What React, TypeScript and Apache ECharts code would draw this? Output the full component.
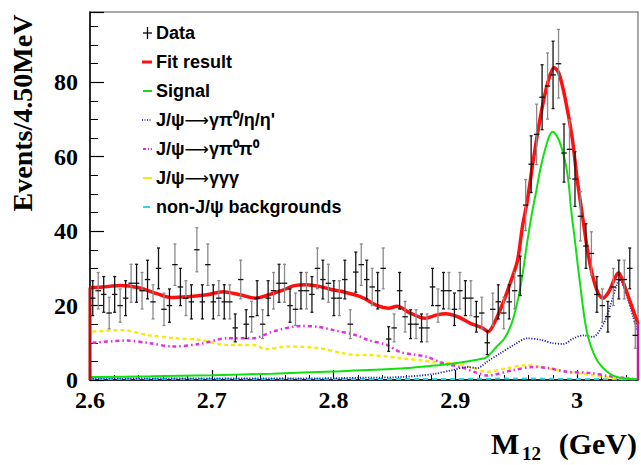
import React, { useEffect, useRef } from "react";
import * as echarts from "echarts";

// ---------- data ----------
const xRange = [2.6, 3.05];
const binWidth = 0.0045; // 4.50 MeV
const xTickLabels = ["2.6", "2.7", "2.8", "2.9", "3"];
const yTickLabels = ["0", "20", "40", "60", "80"];

// event counts per 4.5 MeV bin (100 bins, 2.6 - 3.05 GeV)
const counts = [
  22, 24, 23, 18, 23, 20, 22, 26, 26, 24,
  27, 21, 30, 19, 20, 31, 25, 22, 21, 35,
  21, 31, 21, 22, 21, 21, 14, 27, 15, 17,
  22, 15, 22, 24, 26, 26, 20, 19, 24, 24,
  23, 30, 27, 26, 22, 22, 27, 15, 29, 31,
  27, 25, 24, 30, 11, 14, 24, 17, 15, 15,
  14, 14, 25, 20, 24, 24, 19, 24, 22, 22,
  17, 18, 10, 19, 21, 18, 21, 24, 28, 47,
  58, 66, 76, 79, 82, 85, 61, 62, 54, 44,
  36, 34, 23, 20, 17, 25, 27, 27, 30, 12,
];

const fitX = [2.6, 2.61, 2.625, 2.64, 2.655, 2.666, 2.68, 2.696, 2.709, 2.723, 2.736, 2.745, 2.759, 2.767, 2.778, 2.789, 2.8, 2.808, 2.822, 2.836, 2.845, 2.852, 2.863, 2.875, 2.885, 2.892, 2.902, 2.912, 2.922, 2.927, 2.933, 2.939, 2.945, 2.951, 2.955, 2.959, 2.964, 2.97, 2.976, 2.981, 2.985, 2.99, 2.996, 3.0, 3.004, 3.008, 3.012, 3.017, 3.021, 3.026, 3.031, 3.034, 3.037, 3.041, 3.045, 3.049, 3.05];
const fitY = [24.8, 25.0, 25.4, 24.8, 23.2, 22.2, 22.4, 22.9, 23.7, 22.9, 22.0, 22.7, 24.2, 25.3, 25.6, 25.1, 24.2, 23.7, 22.4, 20.0, 19.3, 19.8, 18.0, 16.6, 17.5, 17.8, 17.0, 15.3, 14.0, 13.0, 16.0, 20.6, 26.0, 32.0, 41.0, 48.0, 59.0, 71.0, 80.0, 84.0, 82.5, 76.0, 65.0, 54.0, 45.0, 36.0, 29.0, 23.5, 22.0, 23.7, 27.4, 28.8, 27.0, 23.4, 19.7, 16.0, 15.0];

const sigX = [2.6, 2.65, 2.7, 2.75, 2.8, 2.85, 2.88, 2.9, 2.92, 2.926, 2.934, 2.94, 2.946, 2.951, 2.955, 2.959, 2.963, 2.966, 2.97, 2.976, 2.98, 2.985, 2.99, 2.993, 2.995, 2.998, 3.002, 3.008, 3.016, 3.026, 3.035, 3.05];
const sigY = [0.8, 1.0, 1.3, 1.7, 2.3, 3.0, 3.8, 4.5, 5.6, 6.2, 9.0, 11.0, 15.0, 21.0, 28.0, 37.0, 45.0, 50.0, 57.0, 64.5, 66.7, 64.5, 59.0, 53.0, 46.0, 38.0, 27.0, 13.0, 5.5, 1.9, 0.6, 0.2];

const etaX = [2.6, 2.7, 2.77, 2.82, 2.855, 2.882, 2.898, 2.91, 2.918, 2.926, 2.937, 2.948, 2.959, 2.97, 2.98, 2.989, 2.997, 3.005, 3.013, 3.022, 3.027, 3.033, 3.035, 3.041, 3.046, 3.049];
const etaY = [0.4, 0.4, 0.4, 0.6, 0.8, 1.6, 2.7, 3.5, 3.2, 4.9, 7.2, 9.4, 11.2, 10.8, 9.9, 9.7, 11.2, 12.0, 11.6, 15.3, 19.7, 26.0, 27.0, 22.4, 17.0, 13.4];

const pi0pi0X = [2.602, 2.63, 2.649, 2.668, 2.69, 2.713, 2.734, 2.75, 2.773, 2.787, 2.8, 2.819, 2.828, 2.844, 2.855, 2.877, 2.89, 2.904, 2.918, 2.926, 2.948, 2.964, 2.976, 2.992, 3.011, 3.027, 3.046];
const pi0pi0Y = [10.0, 10.6, 9.9, 9.0, 9.7, 11.2, 11.2, 13.0, 14.5, 14.3, 13.4, 12.0, 10.8, 9.4, 7.5, 6.2, 4.5, 3.5, 1.9, 1.2, 2.7, 3.5, 3.2, 2.2, 1.9, 1.0, 0.3];

const gggX = [2.602, 2.626, 2.649, 2.671, 2.69, 2.713, 2.734, 2.745, 2.762, 2.787, 2.808, 2.819, 2.828, 2.855, 2.882, 2.898, 2.915, 2.926, 2.943, 2.959, 2.97, 2.992, 3.013, 3.03, 3.046];
const gggY = [13.0, 13.4, 12.0, 11.2, 10.8, 9.4, 9.4, 8.3, 9.0, 8.6, 7.2, 6.7, 6.7, 5.9, 4.9, 4.5, 3.2, 2.2, 3.2, 4.0, 3.5, 2.2, 1.3, 0.5, 0.3];

const nonJpsiX = [2.6, 2.7, 2.8, 2.9, 2.95, 3.0, 3.05];
const nonJpsiY = [0.3, 0.3, 0.3, 0.3, 0.4, 0.3, 0.2];

// legend labels: [before arrow, after arrow]
const legendLabels: [string, string | null][] = [
  ["Data", null],
  ["Fit result", null],
  ["Signal", null],
  ["J/\u03c8", "\u03b3\u03c0\u2070/\u03b7/\u03b7'"],
  ["J/\u03c8", "\u03b3\u03c0\u2070\u03c0\u2070"],
  ["J/\u03c8", "\u03b3\u03b3\u03b3"],
  ["non-J/\u03c8 backgrounds", null],
];

// ---------- styles ----------
const COL = {
  fit: "#ff1010",
  sig: "#10e010",
  eta: "#2323b0",
  pp: "#e030e0",
  ggg: "#f8ea10",
  non: "#30d8e0",
};

const zip = (xs: number[], ys: number[]) => xs.map((x, i) => [x, ys[i]]);

export default function App() {
  const ref = useRef<HTMLDivElement>(null);
  useEffect(() => {
    if (!ref.current) return;
    const chart = echarts.init(ref.current, null, { renderer: "svg" });

    const dataPts = counts.map((c, i) => [
      xRange[0] + binWidth * (i + 0.5),
      c,
      Math.sqrt(c),
    ]);

    const serif = "Liberation Serif";
    const sans = "Liberation Sans";

    const legendTop = 33;
    const legendStep = 29;
    const mx0 = 143;
    const mx1 = 152;
    const tx = 156;
    const legendMarkers: any[] = [];
    const ly = (i: number) => legendTop + legendStep * i;
    legendMarkers.push(
      { type: "line", shape: { x1: mx0, y1: ly(0), x2: mx1, y2: ly(0) }, style: { stroke: "#000", lineWidth: 1.3 } },
      { type: "line", shape: { x1: (mx0 + mx1) / 2, y1: ly(0) - 6, x2: (mx0 + mx1) / 2, y2: ly(0) + 6 }, style: { stroke: "#000", lineWidth: 1.3 } },
      { type: "line", shape: { x1: mx0 - 1, y1: ly(1), x2: mx1, y2: ly(1) }, style: { stroke: COL.fit, lineWidth: 3 } },
      { type: "line", shape: { x1: mx0, y1: ly(2), x2: mx1, y2: ly(2) }, style: { stroke: COL.sig, lineWidth: 2 } },
      { type: "line", shape: { x1: mx0 - 1, y1: ly(3), x2: mx1, y2: ly(3) }, style: { stroke: COL.eta, lineWidth: 1.5, lineDash: [1, 1.5] } },
      { type: "line", shape: { x1: mx0, y1: ly(4), x2: mx1, y2: ly(4) }, style: { stroke: COL.pp, lineWidth: 2, lineDash: [3, 2, 1, 2] } },
      { type: "line", shape: { x1: mx0, y1: ly(5), x2: mx1, y2: ly(5) }, style: { stroke: COL.ggg, lineWidth: 2 } },
      { type: "line", shape: { x1: mx0, y1: ly(6), x2: mx1 - 2, y2: ly(6) }, style: { stroke: COL.non, lineWidth: 2 } }
    );
    const legendTexts = legendLabels.map(([a, b], i) => ({
      type: "text",
      x: tx,
      y: ly(i),
      style: {
        text: b === null ? `{t|${a}}` : `{t|${a}}{a|\u27f6}{t|${b}}`,
        fill: "#000",
        fontFamily: sans,
        fontWeight: "bold",
        fontSize: 18,
        textAlign: "left",
        textVerticalAlign: "middle",
        rich: {
          t: { fontFamily: sans, fontWeight: "bold", fontSize: 18, fill: "#000" },
          a: { fontFamily: "DejaVu Sans", fontWeight: "normal", fontSize: 17, fill: "#000" },
        },
      },
    }));

    const lineSeries = (name: string, data: number[][], color: string, width: number, type: any, z = 3) => ({
      name,
      type: "line",
      data,
      showSymbol: false,
      symbol: "none",
      smooth: 0.3,
      z,
      lineStyle: { color, width, type },
      silent: true,
    });

    const option: any = {
      animation: false,
      backgroundColor: "#fff",
      grid: {
        left: 90,
        right: 3,
        top: 12,
        bottom: 85,
        show: true,
        borderColor: "#8c8c8c",
        borderWidth: 1.5,
        backgroundColor: "transparent",
      },
      xAxis: {
        type: "value",
        min: xRange[0],
        max: xRange[1],
        interval: 0.1,
        axisLine: { show: true, onZero: false, lineStyle: { color: "#000", width: 1.5 } },
        axisTick: { show: true, inside: true, length: 10, lineStyle: { color: "#000", width: 1.2 } },
        minorTick: { show: true, splitNumber: 5, length: 5, lineStyle: { color: "#000", width: 1 } },
        splitLine: { show: false },
        axisLabel: {
          color: "#000",
          fontFamily: serif,
          fontWeight: "bold",
          fontSize: 24,
          margin: 8,
          formatter: (v: number) => {
            const k = Math.round((v - xRange[0]) * 10);
            return Math.abs(v - (xRange[0] + k / 10)) < 1e-6 && k >= 0 && k < xTickLabels.length ? xTickLabels[k] : "";
          },
        },
      },
      yAxis: {
        type: "value",
        min: 0,
        max: 98.9,
        interval: 20,
        axisLine: { show: true, lineStyle: { color: "#000", width: 1.5 } },
        axisTick: { show: true, inside: true, length: 14, lineStyle: { color: "#000", width: 1.2 } },
        minorTick: { show: true, splitNumber: 4, length: 8, lineStyle: { color: "#000", width: 1 } },
        splitLine: { show: false },
        axisLabel: {
          color: "#000",
          fontFamily: serif,
          fontWeight: "bold",
          fontSize: 24,
          margin: 12,
          formatter: (v: number) => {
            const k = Math.round(v / 20);
            return Math.abs(v - k * 20) < 1e-6 && k < yTickLabels.length ? yTickLabels[k] : "";
          },
        },
      },
      series: [
        lineSeries("non-J/psi", zip(nonJpsiX, nonJpsiY), COL.non, 2, [5, 4], 2),
        lineSeries("ggg", zip(gggX, gggY), COL.ggg, 2.5, [4, 3], 3),
        lineSeries("pi0pi0", zip(pi0pi0X, pi0pi0Y), COL.pp, 2.5, [4, 3, 1.5, 3], 3),
        lineSeries("eta", zip(etaX, etaY), COL.eta, 1.8, [1.2, 1.5], 3),
        lineSeries("Signal", zip(sigX, sigY), COL.sig, 2, "solid", 4),
        lineSeries("Fit", zip(fitX, fitY), COL.fit, 3.5, "solid", 5),
        {
          type: "line",
          data: [[fitX[0], 0], [fitX[0], fitY[0]]],
          showSymbol: false,
          symbol: "none",
          lineStyle: { color: "#b01010", width: 3 },
          z: 5,
          silent: true,
        },
        {
          type: "line",
          data: [[fitX[fitX.length - 1], 0], [fitX[fitX.length - 1], fitY[fitY.length - 1]]],
          showSymbol: false,
          symbol: "none",
          lineStyle: { color: "#c020a0", width: 2.5 },
          z: 5,
          silent: true,
        },
        {
          name: "Data",
          type: "custom",
          data: dataPts,
          z: 6,
          silent: true,
          renderItem: (params: any, api: any) => {
            const x = api.value(0);
            const y = api.value(1);
            const e = api.value(2);
            const c = api.coord([x, y]);
            const top = api.coord([x, y + e]);
            const bot = api.coord([x, Math.max(0, y - e)]);
            const l = api.coord([x - binWidth / 2, y]);
            const r = api.coord([x + binWidth / 2, y]);
            const col = params.dataIndex % 2 === 1 ? "#8a8a8a" : "#151515";
            const st = { stroke: col, lineWidth: 1.3 };
            return {
              type: "group",
              children: [
                { type: "line", shape: { x1: c[0], y1: top[1], x2: c[0], y2: bot[1] }, style: st },
                { type: "line", shape: { x1: l[0], y1: c[1], x2: r[0], y2: c[1] }, style: { stroke: "#111", lineWidth: 1.3 } },
                { type: "line", shape: { x1: c[0] - 1.5, y1: top[1], x2: c[0] + 1.5, y2: top[1] }, style: st },
                { type: "line", shape: { x1: c[0] - 1.5, y1: bot[1], x2: c[0] + 1.5, y2: bot[1] }, style: st },
              ],
            };
          },
        },
      ],
      graphic: [
        ...legendMarkers,
        ...legendTexts,
        {
          type: "text",
          x: 22,
          y: 113,
          rotation: Math.PI / 2,
          style: {
            text: "Events/4.50MeV",
            fill: "#000",
            fontFamily: serif,
            fontWeight: "bold",
            fontSize: 28,
            textAlign: "center",
            textVerticalAlign: "middle",
          },
        },
        {
          type: "text",
          x: 491,
          y: 443,
          style: { text: "M", fill: "#000", fontFamily: serif, fontWeight: "bold", fontSize: 30, textAlign: "left", textVerticalAlign: "middle" },
        },
        {
          type: "text",
          x: 522,
          y: 453,
          style: { text: "12", fill: "#000", fontFamily: serif, fontWeight: "bold", fontSize: 19, textAlign: "left", textVerticalAlign: "middle" },
        },
        {
          type: "text",
          x: 637,
          y: 443,
          style: { text: "(GeV)", fill: "#000", fontFamily: serif, fontWeight: "bold", fontSize: 30, textAlign: "right", textVerticalAlign: "middle" },
        },
      ],
    };

    chart.setOption(option);
    return () => chart.dispose();
  }, []);

  return <div ref={ref} style={{ position: "absolute", left: 0, top: 0, width: 641, height: 465 }} />;
}
